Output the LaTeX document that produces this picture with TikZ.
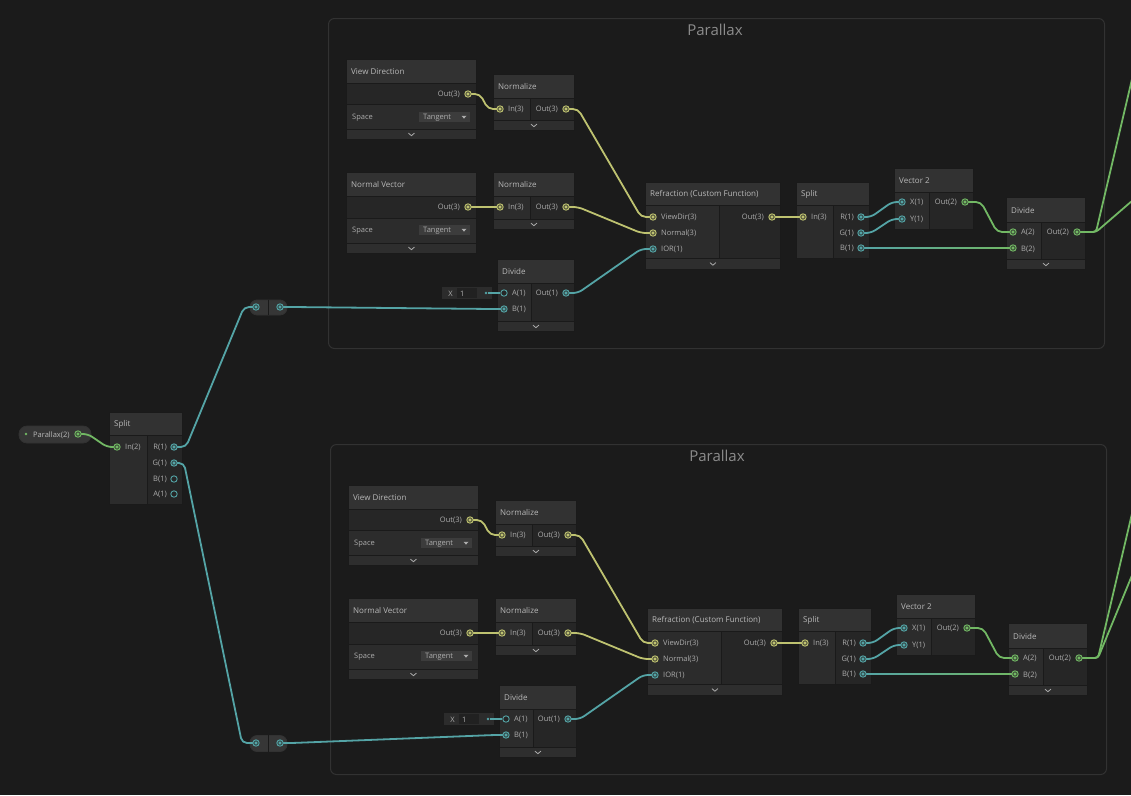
\documentclass[tikz,border=0pt]{standalone}
\usepackage{fontspec}
\setmainfont{Open Sans}
\usepackage{xcolor}
\usetikzlibrary{positioning}

\definecolor{canvas}{RGB}{27,27,27}
\definecolor{frame}{RGB}{50,50,50}
\definecolor{headcol}{RGB}{50,50,50}
\definecolor{incol}{RGB}{44,44,44}
\definecolor{outcol}{RGB}{38,38,38}
\definecolor{barcol}{RGB}{46,46,46}
\definecolor{sepcol}{RGB}{26,26,26}
\definecolor{fieldout}{RGB}{44,44,44}
\definecolor{fieldin}{RGB}{33,33,33}
\definecolor{ddcol}{RGB}{60,60,60}
\definecolor{pillcol}{RGB}{54,54,54}
\definecolor{txtcol}{RGB}{185,185,185}
\definecolor{lblcol}{RGB}{172,172,172}
\definecolor{grptxt}{RGB}{140,140,140}
\definecolor{vecthree}{RGB}{190,194,112}
\definecolor{vecone}{RGB}{84,164,166}
\definecolor{vectwo}{RGB}{114,184,100}

\pgfdeclarelayer{wires}
\pgfdeclarelayer{ports}
\pgfsetlayers{main,wires,ports}

\begin{document}
\begin{tikzpicture}[
    x=1pt, y=-1pt,
    sgbody/.style={anchor=north west, draw=sepcol, fill=outcol, line width=0.8pt, inner sep=0pt},
    sghead/.style={sgbody, fill=headcol, minimum height=24pt},
    sgcol/.style={sgbody, fill=incol},
    sgbar/.style={sgbody, fill=barcol, minimum height=10pt},
    field/.style={sgbody, draw=none, fill=fieldout},
    sgtitle/.style={anchor=west, inner sep=0pt, yshift=-0.7pt, text=txtcol, font=\fontsize{8}{9}\selectfont},
    lbl/.style={inner sep=0pt, yshift=-0.7pt, text=lblcol, font=\fontsize{7.5}{8}\selectfont},
    inlbl/.style={lbl, anchor=west},
    outlbl/.style={lbl, anchor=east},
    port/.style={circle, draw=#1, fill=#1!30!outcol, line width=0.9pt, minimum size=6.4pt, inner sep=0pt,
        path picture={\fill[#1] (path picture bounding box.center) circle (1.7pt);}},
    hollow/.style={circle, draw=#1, fill=outcol, line width=0.9pt, minimum size=6.4pt, inner sep=0pt},
    wire/.style={draw=#1, line width=1.8pt, rounded corners=5pt},
    chev/.style={draw=lblcol, line width=0.8pt},
    grpframe/.style={anchor=north west, draw=frame, line width=1pt, rounded corners=6pt,
        minimum width=776pt, minimum height=330pt, inner sep=0pt},
    grptitle/.style={text=grptxt, font=\fontsize{15}{16}\selectfont},
    pill/.style={draw=frame, fill=pillcol, line width=0.8pt, rounded corners=7pt, inner sep=0pt}
]
\useasboundingbox (0,0) rectangle (1131,795);
\fill[canvas] (0,0) rectangle (1131,795);

% the two Parallax groups
\foreach \g/\dx/\dy/\ey in {a/0/0/194, b/2/426/125} {
\begin{scope}[shift={(\dx,\dy)}, name prefix=\g-]
\node[grpframe] (grp) at (328,18) {};
\node[grptitle] at (715,30) {Parallax};

% View Direction
\node[sgbody, minimum width=130pt, minimum height=80pt] (vd) at (346,59) {};
\node[sghead, minimum width=130pt] (vd-h) at (346,59) {};
\node[sgtitle] at (351,71) {View Direction};
\node[sgcol, minimum width=130pt, minimum height=25pt] (vd-row) at (346,104) {};
\node[sgbar, minimum width=130pt] (vd-bar) at (346,129) {};
\draw[chev] (vd-bar.center) +(-3,-1.3) -- +(0,1.3) -- +(3,-1.3);
\node[outlbl] at (460,94) {Out(3)};
\node[inlbl] at (352,117) {Space};
\node[field, fill=ddcol, minimum width=51pt, minimum height=10pt] (vd-dd) at (419,112) {};
\node[inlbl] at (423,117) {Tangent};
\fill[lblcol] (461.5,115.8) -- (466.5,115.8) -- (464,118.6) -- cycle;

% Normalize (view)
\node[sgbody, minimum width=81pt, minimum height=56pt] (n1) at (493,74) {};
\node[sghead, minimum width=81pt] (n1-h) at (493,74) {};
\node[sgtitle] at (498,86) {Normalize};
\node[sgcol, minimum width=37pt, minimum height=22pt] at (493,98) {};
\node[sgbar, minimum width=81pt] (n1-bar) at (493,120) {};
\draw[chev] (n1-bar.center) +(-3,-1.3) -- +(0,1.3) -- +(3,-1.3);
\node[inlbl] at (508,109) {In(3)};
\node[outlbl] at (558,109) {Out(3)};

% Normal Vector
\node[sgbody, minimum width=130pt, minimum height=81pt] (nv) at (346,172) {};
\node[sghead, minimum width=130pt] (nv-h) at (346,172) {};
\node[sgtitle] at (351,184) {Normal Vector};
\node[sgcol, minimum width=130pt, minimum height=25pt] (nv-row) at (346,218) {};
\node[sgbar, minimum width=130pt] (nv-bar) at (346,243) {};
\draw[chev] (nv-bar.center) +(-3,-1.3) -- +(0,1.3) -- +(3,-1.3);
\node[outlbl] at (460,207) {Out(3)};
\node[inlbl] at (352,230) {Space};
\node[field, fill=ddcol, minimum width=51pt, minimum height=10pt] (nv-dd) at (419,225) {};
\node[inlbl] at (423,230) {Tangent};
\fill[lblcol] (461.5,228.8) -- (466.5,228.8) -- (464,231.6) -- cycle;

% Normalize (normal)
\node[sgbody, minimum width=81pt, minimum height=57pt] (n2) at (493,172) {};
\node[sghead, minimum width=81pt] (n2-h) at (493,172) {};
\node[sgtitle] at (498,184) {Normalize};
\node[sgcol, minimum width=37pt, minimum height=23pt] at (493,196) {};
\node[sgbar, minimum width=81pt] (n2-bar) at (493,219) {};
\draw[chev] (n2-bar.center) +(-3,-1.3) -- +(0,1.3) -- +(3,-1.3);
\node[inlbl] at (508,207) {In(3)};
\node[outlbl] at (558,207) {Out(3)};

% Divide (IOR)
\node[sgbody, minimum width=77pt, minimum height=72pt] (d1) at (497,259) {};
\node[sghead, minimum width=77pt] (d1-h) at (497,259) {};
\node[sgtitle] at (502,271) {Divide};
\node[sgcol, minimum width=34pt, minimum height=38pt] at (497,283) {};
\node[sgbar, minimum width=77pt] (d1-bar) at (497,321) {};
\draw[chev] (d1-bar.center) +(-3,-1.3) -- +(0,1.3) -- +(3,-1.3);
\node[inlbl] at (512,293) {A(1)};
\node[inlbl] at (512,309) {B(1)};
\node[outlbl] at (558,293) {Out(1)};
\node[field, minimum width=50pt, minimum height=12pt] (d1-fld) at (442,287) {};
\fill[fieldin] (457,288) rectangle (477,298);
\node[lbl] at (450.5,293) {X};
\node[inlbl] at (460,293) {1};

% Refraction (Custom Function)
\node[sgbody, minimum width=135pt, minimum height=87pt] (rf) at (645,182) {};
\node[sghead, minimum width=135pt, minimum height=23pt] (rf-h) at (645,182) {};
\node[sgtitle] at (650,193.5) {Refraction (Custom Function)};
\node[sgcol, minimum width=74pt, minimum height=53pt] at (645,205) {};
\node[sgbar, minimum width=135pt, minimum height=11pt] (rf-bar) at (645,258) {};
\draw[chev] (rf-bar.center) +(-3,-1.3) -- +(0,1.3) -- +(3,-1.3);
\node[inlbl] at (661,217) {ViewDir(3)};
\node[inlbl] at (661,233) {Normal(3)};
\node[inlbl] at (661,249) {IOR(1)};
\node[outlbl] at (764,217) {Out(3)};

% Split
\node[sgbody, minimum width=73pt, minimum height=76pt] (sp) at (796,182) {};
\node[sghead, minimum width=73pt, minimum height=23pt] (sp-h) at (796,182) {};
\node[sgtitle] at (801,193.5) {Split};
\node[sgcol, minimum width=37pt, minimum height=53pt] at (796,205) {};
\node[inlbl] at (811,217) {In(3)};
\node[outlbl] at (854,217) {R(1)};
\node[outlbl] at (854,233) {G(1)};
\node[outlbl] at (854,248) {B(1)};

% Vector 2
\node[sgbody, minimum width=79pt, minimum height=61pt] (v2) at (894,168) {};
\node[sghead, minimum width=79pt] (v2-h) at (894,168) {};
\node[sgtitle] at (899,180) {Vector 2};
\node[sgcol, minimum width=35pt, minimum height=37pt] at (894,192) {};
\node[inlbl] at (910,202) {X(1)};
\node[inlbl] at (910,219) {Y(1)};
\node[outlbl] at (957,202) {Out(2)};

% Divide (uv)
\node[sgbody, minimum width=79pt, minimum height=72pt] (d2) at (1006,197) {};
\node[sghead, minimum width=79pt, minimum height=25pt] (d2-h) at (1006,197) {};
\node[sgtitle] at (1011,209.5) {Divide};
\node[sgcol, minimum width=35pt, minimum height=37pt] at (1006,222) {};
\node[sgbar, minimum width=79pt] (d2-bar) at (1006,259) {};
\draw[chev] (d2-bar.center) +(-3,-1.3) -- +(0,1.3) -- +(3,-1.3);
\node[inlbl] at (1021,232) {A(2)};
\node[inlbl] at (1021,249) {B(2)};
\node[outlbl] at (1069,232) {Out(2)};

\begin{pgfonlayer}{ports}
\node[port=vecthree] (vd-o) at (468,94) {};
\node[port=vecthree] (n1-i) at (500,109) {};
\node[port=vecthree] (n1-o) at (566,109) {};
\node[port=vecthree] (nv-o) at (468,207) {};
\node[port=vecthree] (n2-i) at (500,207) {};
\node[port=vecthree] (n2-o) at (566,207) {};
\node[hollow=vecone] (d1-a) at (504,293) {};
\node[port=vecone] (d1-b) at (504,309) {};
\node[port=vecone] (d1-o) at (566,293) {};
\node[circle, fill=vecone, inner sep=0pt, minimum size=2.8pt] (d1-dot) at (486,293) {};
\node[port=vecthree] (rf-vd) at (653,217) {};
\node[port=vecthree] (rf-n) at (653,233) {};
\node[port=vecone] (rf-ior) at (653,249) {};
\node[port=vecthree] (rf-o) at (772,217) {};
\node[port=vecthree] (sp-i) at (803,217) {};
\node[port=vecone] (sp-r) at (861,217) {};
\node[port=vecone] (sp-g) at (861,233) {};
\node[port=vecone] (sp-b) at (861,248) {};
\node[port=vecone] (v2-x) at (902,202) {};
\node[port=vecone] (v2-y) at (902,219) {};
\node[port=vectwo] (v2-o) at (965,202) {};
\node[port=vectwo] (d2-a) at (1013,232) {};
\node[port=vectwo] (d2-b) at (1013,248) {};
\node[port=vectwo] (d2-o) at (1077,232) {};
\end{pgfonlayer}

\coordinate (jn) at (1096,232);
\coordinate (far1) at (1140,45);
\coordinate (far2) at (1140,\ey);

\begin{pgfonlayer}{wires}
\draw[wire=vecthree] (vd-o.center) -- ++(12,0) -- ([xshift=-12pt]n1-i.center) -- (n1-i.center);
\draw[wire=vecthree] (nv-o.center) -- (n2-i.center);
\draw[wire=vecthree] (n1-o.center) -- ++(12,0) -- ([xshift=-12pt]rf-vd.center) -- (rf-vd.center);
\draw[wire=vecthree] (n2-o.center) -- ++(12,0) -- ([xshift=-12pt]rf-n.center) -- (rf-n.center);
\draw[wire=vecone] (d1-o.center) -- ++(12,0) -- ([xshift=-12pt]rf-ior.center) -- (rf-ior.center);
\draw[vecone, line width=1.2pt] (d1-dot) -- (d1-a);
\draw[wire=vecthree] (rf-o.center) -- (sp-i.center);
\draw[wire=vecone] (sp-r.center) -- ++(10,0) -- ([xshift=-10pt]v2-x.center) -- (v2-x.center);
\draw[wire=vecone] (sp-g.center) -- ++(10,0) -- ([xshift=-10pt]v2-y.center) -- (v2-y.center);
\shade[left color=vecone, right color=vectwo] ([yshift=-0.9pt]sp-b.center) rectangle ([yshift=0.9pt]d2-b.center);
\draw[wire=vectwo] (v2-o.center) -- ++(16,0) -- ([xshift=-16pt]d2-a.center) -- (d2-a.center);
\draw[wire=vectwo, rounded corners=3pt] (d2-o.center) -- (jn) -- (far1);
\draw[wire=vectwo, rounded corners=3pt] (d2-o.center) -- (jn) -- (far2);
\end{pgfonlayer}
\end{scope}
}

% Parallax property
\node[pill, minimum width=72pt, minimum height=17pt, rounded corners=8pt] (pp) at (55,434.5) {};
\fill[vectwo] (26,434) circle (1.4pt);
\node[inlbl, text=txtcol] at (33,434.5) {Parallax(2)};

% Split (left)
\node[sgbody, minimum width=73pt, minimum height=92pt] (spl) at (109,412) {};
\node[sghead, minimum width=73pt, minimum height=23pt] (spl-h) at (109,412) {};
\node[sgtitle] at (114,423.5) {Split};
\node[sgcol, minimum width=38pt, minimum height=69pt] at (109,435) {};
\node[inlbl] at (125,447) {In(2)};
\node[outlbl] at (167,447) {R(1)};
\node[outlbl] at (167,463) {G(1)};
\node[outlbl] at (167,479) {B(1)};
\node[outlbl] at (167,494) {A(1)};

% reroutes
\node[pill, minimum width=37pt, minimum height=15pt] (rr1) at (268.5,307.5) {};
\draw[sepcol, line width=0.8pt] (rr1.north) -- (rr1.south);
\node[pill, minimum width=37pt, minimum height=16pt] (rr2) at (268.5,743.5) {};
\draw[sepcol, line width=0.8pt] (rr2.north) -- (rr2.south);

\begin{pgfonlayer}{ports}
\node[port=vectwo] (pp-o) at (78,434) {};
\node[port=vectwo] (spl-i) at (117,447) {};
\node[port=vecone] (spl-r) at (174,447) {};
\node[port=vecone] (spl-g) at (174,463) {};
\node[hollow=vecone] (spl-b) at (174,479) {};
\node[hollow=vecone] (spl-a) at (174,494) {};
\node[port=vecone] (rr1-i) at (256,307) {};
\node[port=vecone] (rr1-o) at (280,307) {};
\node[port=vecone] (rr2-i) at (256,743) {};
\node[port=vecone] (rr2-o) at (280,743) {};
\end{pgfonlayer}

\begin{pgfonlayer}{wires}
\draw[wire=vectwo] (pp-o.center) -- ++(10,0) -- ([xshift=-10pt]spl-i.center) -- (spl-i.center);
\draw[wire=vecone] (spl-r.center) -- ++(12,0) -- ([xshift=-12pt]rr1-i.center) -- (rr1-i.center);
\draw[wire=vecone] (spl-g.center) -- ++(10,0) -- ([xshift=-14pt]rr2-i.center) -- (rr2-i.center);
\draw[wire=vecone] (rr1-o.center) -- ++(12,0) -- ([xshift=-12pt]a-d1-b.center) -- (a-d1-b.center);
\draw[wire=vecone] (rr2-o.center) -- ++(12,0) -- ([xshift=-12pt]b-d1-b.center) -- (b-d1-b.center);
\end{pgfonlayer}
\end{tikzpicture}
\end{document}
